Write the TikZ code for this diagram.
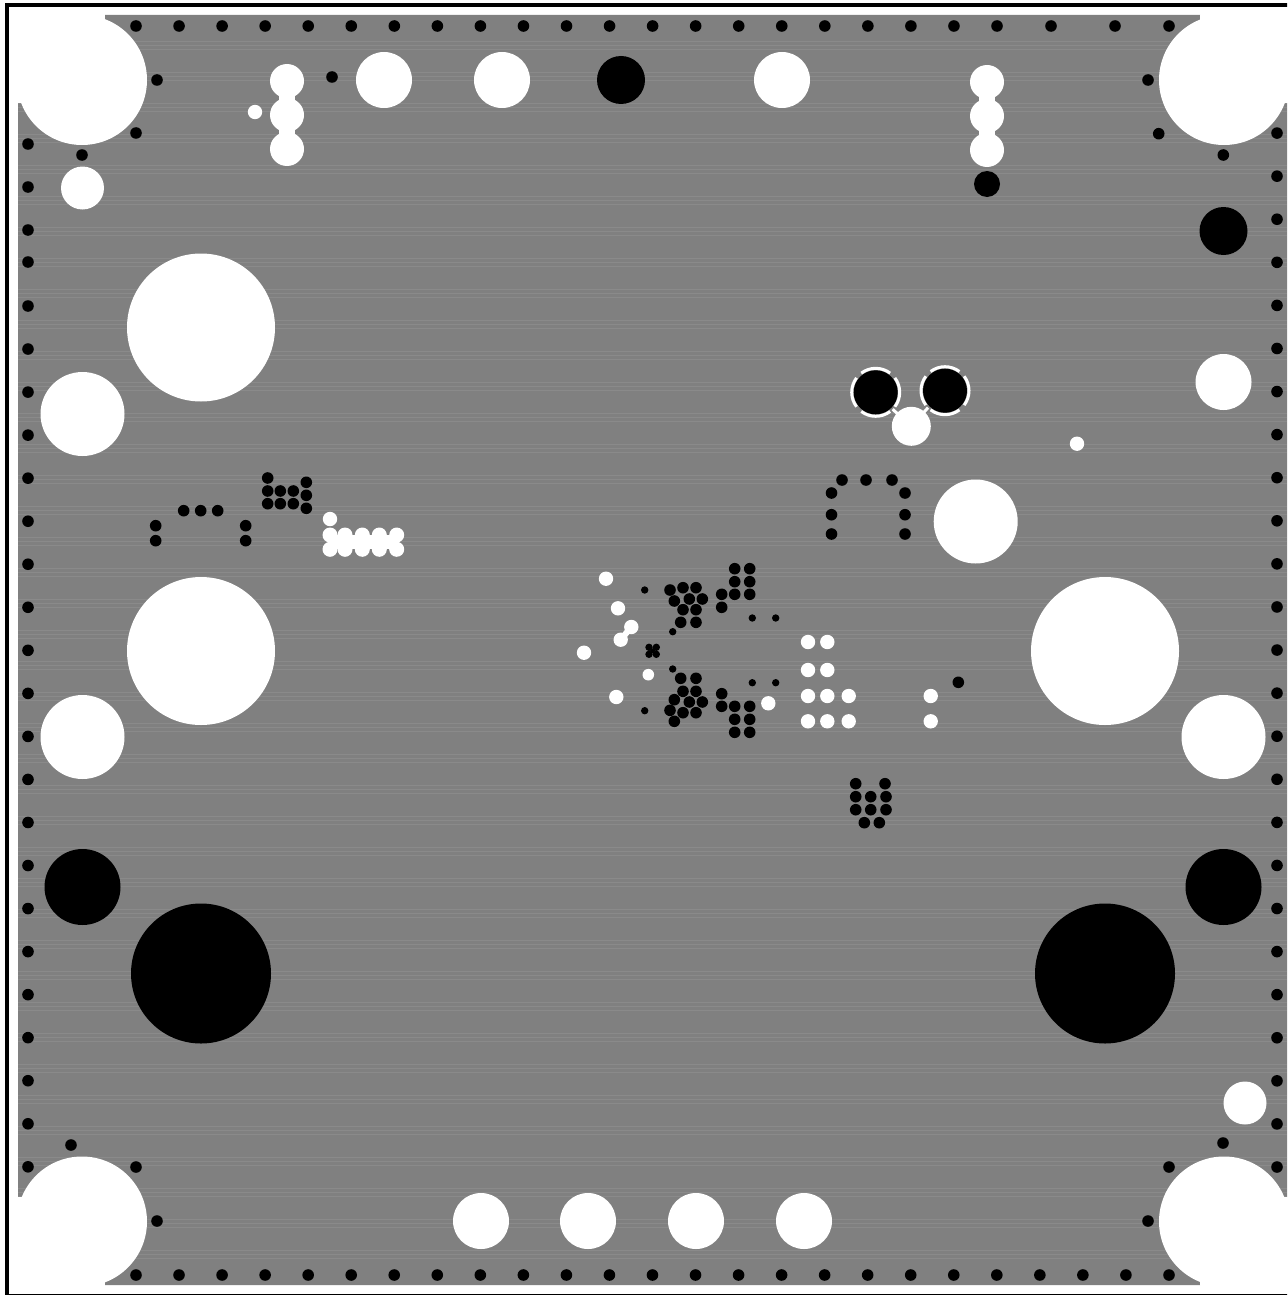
\documentclass[tikz,border=0pt]{standalone}
\usepackage{tikz}
\usetikzlibrary{calc}
\definecolor{plane}{gray}{0.5}
\definecolor{stripe}{gray}{0.54}
\tikzset{via/.style={fill=black},hole/.style={fill=white},relief/.style={draw=white,line width=1.5pt}}
\begin{document}
\begin{tikzpicture}[x=0.5pt,y=-0.5pt]
\useasboundingbox (0,0) rectangle (1287,1295);
\clip (0,0) rectangle (1287,1295);
\fill[white] (0,0) rectangle (1287,1295);
\draw[black,line width=2pt] (7,4.6) rectangle (1300,1296);

% copper plane
\fill[plane] (105,15) -- (1200,15) -- (1200,103) -- (1287,103) -- (1287,1197) -- (1200,1197) -- (1200,1285) -- (105,1285) -- (105,1197) -- (18,1197) -- (18,103) -- (105,103) -- cycle;
\foreach \n in {1,...,40} {
\foreach \d in {-4,0,4} {
\draw[stripe,line width=0.3pt] ($(18,14+\d)+\n*(0,31)$) -- ++(1269,0);
}
}

% corner holes
\foreach \x/\y in {82/80, 1224/80, 82/1221.5, 1224/1221.5} {
\fill[hole] (\x,\y) circle (65);
}
\fill[hole] (18,15) rectangle (105,103);
\fill[hole] (1200,15) rectangle (1287,103);
\fill[hole] (18,1197) rectangle (105,1285);
\fill[hole] (1200,1197) rectangle (1287,1285);

% stitching vias along the edges
\foreach \n in {0,...,20} {
\fill[via] ($(136,26)+\n*(43.05,0)$) circle (5.8);
}
\foreach \x in {1051,1115,1169} {
\fill[via] (\x,26) circle (5.8);
}
\foreach \n in {0,...,23} {
\fill[via] ($(136,1275)+\n*(43.04,0)$) circle (5.8);
}
\fill[via] (1169,1275) circle (5.8);
\foreach \y in {144,187,230,262} {
\fill[via] (28,\y) circle (5.8);
}
\foreach \n in {0,...,20} {
\fill[via] ($(28,306)+\n*(0,43.04)$) circle (5.8);
}
\foreach \n in {0,...,24} {
\fill[via] ($(1277,1167)-\n*(0,43.08)$) circle (5.8);
}
\foreach \x/\y in {157/80, 136/133, 82/155, 1148/80, 1158.7/133.7, 1223.3/155, 71/1145, 136/1167, 157/1221, 1223/1143, 1169/1167, 1148/1221, 332/77, 958.3/682.3} {
\fill[via] (\x,\y) circle (5.8);
}

% mounting holes
\foreach \x/\y/\r in {201/327.5/74, 201/651/74, 1105/651/74, 82.5/414/42, 82.5/737/42, 1223.5/737/42, 975.7/521.5/42, 82.5/188/21.5, 1245/1103/21.5, 384/80/28, 502/80/28, 782/80/28, 1223.5/382/28, 481/1221/28, 588/1221/28, 696/1221/28, 804/1221/28} {
\fill[hole] (\x,\y) circle (\r);
}
\foreach \y in {81,115,149} {
\fill[hole] (287,\y) circle (17);
\fill[hole] (987,\y+1) circle (17);
}
\fill[hole] (279,81) rectangle (295,149);
\fill[hole] (979,82) rectangle (995,150);
\foreach \x/\y/\r in {201/973.5/70, 1105/973.5/70, 82.5/887/38, 1223.5/887/38, 621/80/24, 1223.5/231/24, 987/184/13} {
\fill[via] (\x,\y) circle (\r);
}

% thermal reliefs
\coordinate (pad) at (911.3,426.3);
\foreach \x/\y/\s in {875.7/392.3/45, 945/390.7/135} {
\fill[via] (\x,\y) circle (22);
\foreach \a in {0,90,180,270} {
\draw[relief] (\x,\y) ++(\a+53:24) arc (\a+53:\a+127:24);
}
\draw[relief] (\x,\y) ++(\s:24) -- (pad);
}
\fill[hole] (pad) circle (19.5);

% small white pads
\foreach \x/\y in {255/112, 1077/443.7, 330/519, 606/578.7, 618/608.3, 631.3/627, 620.7/639.7, 584/652.7, 616.3/697, 768.3/703.3, 808/642, 827.3/642, 808/670, 827.3/670, 808/696, 827.3/696, 848.7/696, 808/721.3, 827.3/721.3, 848.7/721.3, 930.7/696, 930.7/721.3} {
\fill[hole] (\x,\y) circle (7.2);
}
\fill[hole] (648.3,674.7) circle (5.8);
\draw[white,line width=3pt] (631.3,627) -- (620.7,639.7);
\foreach \x in {330,345,362.3,379.3,396.7} {
\fill[hole] (\x,535) circle (7.5);
\fill[hole] (\x,549.3) circle (7.5);
}
\fill[hole] (330,535) rectangle (396.7,549.3);

% via clusters
\foreach \x/\y in {155.7/525.7, 155.7/540.7, 183.7/510.7, 200.7/510.7, 217.7/510.7, 245.7/525.7, 245.7/540.7,
267.7/478, 267.7/491, 267.7/503.7, 280.3/491, 280.3/503.7, 293.3/491, 293.3/503.7, 306.3/482.3, 306.3/495.3, 306.3/508.3,
842/480, 866/480, 892/480, 831.5/493, 905/493, 831.5/514.7, 905/514.7, 831.5/534, 905/534,
670/590, 683/587.7, 696/587.7, 674.3/601, 689.3/599, 702.3/599, 683/609.7, 696/609.7, 680.7/622.3, 696/622.3,
734.7/568.7, 749.7/568.7, 734.7/581.7, 749.7/581.7, 734.7/594.3, 749.7/594.3, 721.7/594.3, 721.7/607.3,
680.7/678.3, 696/678.3, 683/691.3, 696/691.3, 674.3/699.7, 689.3/702, 702.3/702, 670/710.3, 683/712.7, 696/712.7, 674.3/721.3,
721.7/693.7, 721.7/706.3, 734.7/706.3, 749.7/706.3, 734.7/719.3, 749.7/719.3, 734.7/732.3, 749.7/732.3,
855.7/783.7, 885/783.7, 855.7/796.7, 870.7/796.7, 886/796.7, 855.7/809.7, 870.7/809.7, 886/809.7, 864.3/822.7, 879.3/822.7} {
\fill[via] (\x,\y) circle (5.8);
}
\foreach \x/\y in {644.7/590, 672.7/631.7, 752.3/618, 775.7/618, 672.7/669, 752.3/682.7, 775.7/682.7, 644.7/710.7, 649/647.3, 656.3/647.3, 649/654.3, 656.3/654.3} {
\fill[via] (\x,\y) circle (3.7);
}
\fill[via] (652.6,650.8) circle (2.5);

\end{tikzpicture}
\end{document}
